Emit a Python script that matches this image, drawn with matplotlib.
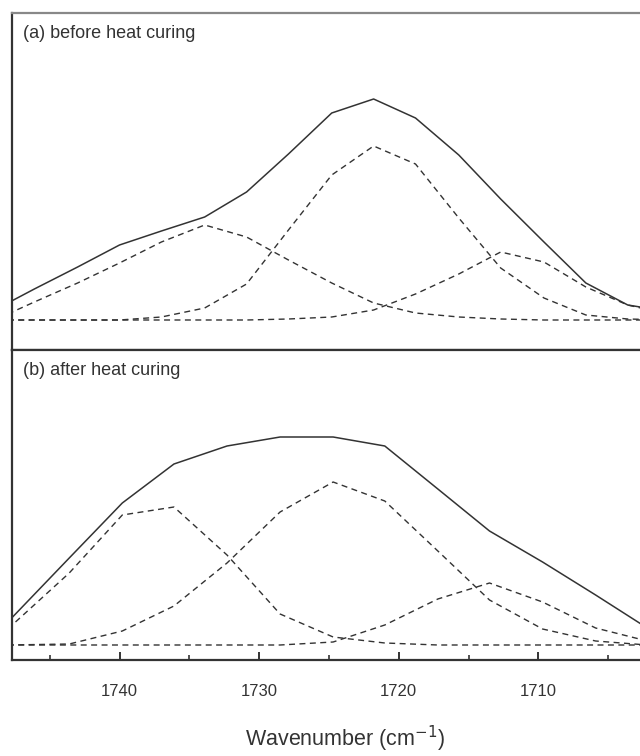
import matplotlib
matplotlib.use("Agg")
import matplotlib.pyplot as plt
from matplotlib.ticker import MultipleLocator

plt.rcParams['font.family'] = ['Liberation Sans', 'DejaVu Sans']

# ---------------- data: panel (a) before heat curing ----------------
wn_a = [1748.0, 1746.1, 1743.0, 1740.0, 1737.0, 1733.9, 1730.9, 1727.9, 1724.8,
        1721.8, 1718.8, 1715.7, 1712.7, 1709.6, 1706.6, 1703.6, 1700.5]
sum_a = [0.17, 0.31, 0.53, 0.75, 0.89, 1.03, 1.28, 1.66, 2.07,
         2.21, 2.02, 1.65, 1.21, 0.78, 0.37, 0.15, 0.08]
peak1_a = [0.06, 0.18, 0.37, 0.57, 0.78, 0.95, 0.83, 0.60, 0.37,
           0.17, 0.07, 0.03, 0.01, 0.00, 0.00, 0.00, 0.00]
peak2_a = [0.00, 0.00, 0.00, 0.00, 0.03, 0.12, 0.36, 0.90, 1.45,
           1.74, 1.56, 1.02, 0.52, 0.22, 0.05, 0.01, 0.00]
peak3_a = [0.00, 0.00, 0.00, 0.00, 0.00, 0.00, 0.00, 0.01, 0.03,
           0.10, 0.26, 0.46, 0.68, 0.58, 0.33, 0.15, 0.05]

# ---------------- data: panel (b) after heat curing ----------------
wn_b = [1748.0, 1743.6, 1739.8, 1736.1, 1732.3, 1728.5, 1724.7, 1721.0,
        1717.2, 1713.5, 1709.7, 1705.9, 1702.2, 1698.4]
sum_b = [0.23, 0.87, 1.42, 1.81, 1.99, 2.08, 2.08, 1.99,
         1.56, 1.14, 0.83, 0.50, 0.17, 0.02]
peak1_b = [0.16, 0.72, 1.30, 1.38, 0.90, 0.31, 0.08, 0.02,
           0.00, 0.00, 0.00, 0.00, 0.00, 0.00]
peak2_b = [0.00, 0.01, 0.14, 0.39, 0.82, 1.33, 1.63, 1.44,
           0.94, 0.45, 0.16, 0.04, 0.00, 0.00]
peak3_b = [0.00, 0.00, 0.00, 0.00, 0.00, 0.00, 0.03, 0.20,
           0.46, 0.62, 0.43, 0.17, 0.04, 0.00]

panel_labels = ["(a) before heat curing", "(b) after heat curing"]
major_ticks = [1740, 1730, 1720, 1710]
x_label = "Wavenumber (cm$^{-1}$)"

# ---------------- figure ----------------
W, H = 640, 756
fig = plt.figure(figsize=(W / 100, H / 100), dpi=100)

ink = '#333333'
left_px, right_px = 12, 678
ax_w = (right_px - left_px) / W
ax_a = fig.add_axes([left_px / W, (H - 350) / H, ax_w, 337 / H])
ax_b = fig.add_axes([left_px / W, (H - 660) / H, ax_w, 310 / H])

dash = (0, (4.3, 3.2))
panels = [
    (ax_a, wn_a, sum_a, [peak1_a, peak2_a, peak3_a], (-0.30, 3.07)),
    (ax_b, wn_b, sum_b, [peak1_b, peak2_b, peak3_b], (-0.15, 2.95)),
]
for i, (ax, wn, total, peaks, ylim) in enumerate(panels):
    for pk in peaks:
        ax.plot(wn, pk, color=ink, lw=1.0, linestyle=dash)
    ax.plot(wn, total, color=ink, lw=1.1)
    ax.set_xlim(1747.7, 1700.0)
    ax.set_ylim(*ylim)
    ax.set_yticks([])
    for side in ['left', 'bottom', 'top', 'right']:
        ax.spines[side].set_color(ink)
        ax.spines[side].set_linewidth(1.6)
    ax.text(0.016, 0.94 if i == 0 else 0.935, panel_labels[i], transform=ax.transAxes,
            ha='left', va='center', fontsize=13, color=ink)

ax_a.spines['top'].set_color('#888888')
ax_a.tick_params(axis='x', which='both', bottom=False, labelbottom=False)

ax_b.xaxis.set_major_locator(MultipleLocator(10))
ax_b.xaxis.set_minor_locator(MultipleLocator(5))
ax_b.set_xticks(major_ticks)
ax_b.set_xticklabels([str(t) for t in major_ticks])
ax_b.tick_params(axis='x', which='major', direction='in', length=6, width=1.4,
                 color=ink, labelsize=12, labelcolor=ink, pad=17)
ax_b.tick_params(axis='x', which='minor', direction='in', length=3.5, width=1.2, color=ink)
ax_b.set_xlabel(x_label, fontsize=15.5, color=ink, labelpad=18)

fig.savefig("out.png", dpi=100)
